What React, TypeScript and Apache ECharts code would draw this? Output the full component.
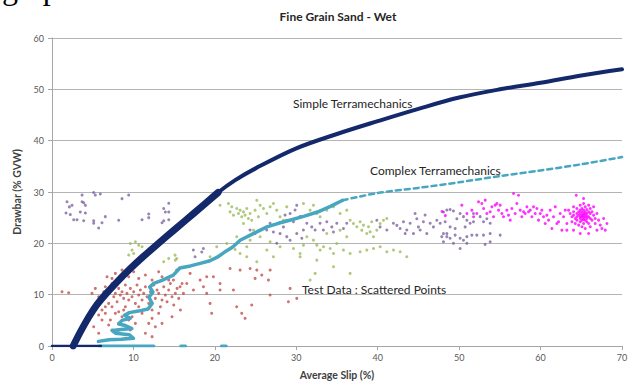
import React, { useEffect, useRef } from "react";
import * as echarts from "echarts";

const titleText = "Fine Grain Sand - Wet";
const xAxisName = "Average Slip (%)";
const yAxisName = "Drawbar (% GVW)";
const simpleLabel = "Simple Terramechanics";
const complexLabel = "Complex Terramechanics";
const testLabel = "Test Data : Scattered Points";

// Simple Terramechanics curve [slip, drawbar]
const simpleCurve: number[][] = [
  [2.6, 0], [3.5, 2.8], [4.5, 5.6], [5.5, 8.0], [6.6, 10.1], [8, 12.5], [9.5, 14.9], [11.2, 17.4],
  [13, 19.9], [15, 22.6], [17.5, 25.95], [20.4, 29.9], [22.5, 32.3], [25, 34.6], [30, 38.5],
  [35, 41.3], [40, 43.8], [45, 46.2], [50, 48.4], [55, 50.0], [60, 51.3], [65, 52.7], [70, 53.9],
];
const simpleBase: number[][] = [[0, 0], [6, 0]];

// Complex Terramechanics: measured-like wiggly part, then dashed prediction
const complexSolid: number[][] = [
  [5.7, 0.9], [7.0, 1.2], [8.5, 1.3], [10.0, 1.5], [9.5, 2.2], [7.8, 2.5], [7.4, 3.0], [8.5, 3.2],
  [9.8, 3.4], [9.0, 4.0], [8.2, 4.3], [8.6, 5.0], [9.6, 5.4], [8.9, 6.0], [9.5, 6.5], [10.6, 6.8],
  [11.8, 7.2], [12.3, 8.3], [11.9, 9.5], [12.4, 10.5], [12.0, 11.5], [12.5, 12.2], [13.5, 12.8],
  [14.9, 13.8], [15.7, 15.2], [17.0, 15.6], [18.2, 16.1], [19.4, 16.6], [20.3, 17.3], [21.2, 18.3],
  [22.2, 19.3], [23.1, 20.6], [24.6, 21.8], [26.4, 23.2], [27.8, 23.9], [29.2, 24.5], [31.0, 25.3],
  [32.6, 26.1], [34.2, 27.2], [35.7, 28.4],
];
const complexDashed: number[][] = [
  [35.7, 28.4], [40, 29.8], [45, 30.8], [50, 31.9], [55, 33.1], [60, 34.2], [65, 35.4], [70, 36.8],
];
const complexBase1: number[][] = [[5.8, 0], [12.5, 0]];
const complexBase2: number[][] = [[15.8, 0], [16.4, 0]];
const complexBase3: number[][] = [[20.8, 0], [21.4, 0]];

// Test data clusters
const redPoints: number[][] = [
  [1.23, 10.57], [2.05, 10.38], [4.91, 10.25], [5.32, 11.22], [5.73, 9.6], [6.14, 8.95], [6.35, 10.57],
  [6.55, 11.55], [6.76, 9.92], [6.96, 8.3], [7.17, 10.9], [7.37, 12.19], [7.58, 9.6], [7.78, 10.25],
  [7.99, 8.63], [8.19, 11.22], [8.39, 9.92], [8.6, 10.57], [8.8, 9.28], [9.01, 11.87], [9.01, 7.65],
  [9.21, 10.25], [9.42, 8.95], [9.62, 11.22], [9.83, 9.6], [10.03, 10.57], [10.24, 8.3], [10.44, 11.87],
  [10.65, 9.92], [10.85, 10.9], [11.06, 8.95], [11.26, 10.25], [11.47, 11.55], [11.67, 9.6], [11.88, 8.3],
  [12.08, 10.57], [12.29, 7.01], [12.49, 11.87], [12.69, 9.28], [12.9, 10.9], [13.1, 10.25], [13.31, 7.65],
  [13.51, 8.95], [13.72, 11.55], [13.92, 9.92], [14.13, 8.63], [14.33, 10.9], [14.54, 12.19], [14.74, 9.6],
  [14.95, 7.98], [15.15, 10.25], [15.36, 11.22], [15.56, 9.28], [15.77, 7.01], [15.97, 12.19],
  [7.37, 7.65], [7.78, 6.36], [8.19, 6.68], [8.6, 5.71], [6.55, 6.36], [6.14, 5.06], [6.96, 4.09],
  [7.37, 3.12], [8.19, 4.41], [10.65, 7.65], [11.06, 6.36], [9.83, 5.71], [10.24, 4.41], [11.88, 4.41],
  [12.29, 5.39], [12.69, 3.76], [13.1, 6.36], [8.6, 14.79], [7.78, 14.14], [9.42, 13.49], [11.47, 13.82],
  [12.29, 12.84], [13.51, 13.49], [14.33, 12.84], [7.37, 13.17], [6.76, 13.49], [10.65, 13.17],
  [13.1, 14.46], [10.03, 14.46], [6.14, 7.01], [5.73, 6.03], [8.19, 3.12], [9.62, 3.12], [5.12, 3.76],
  [5.73, 2.47], [6.55, 7.65], [7.17, 5.06], [8.8, 7.01], [9.42, 5.06], [11.47, 2.47], [12.29, 1.82],
  [13.51, 4.41], [14.74, 5.71], [9.01, 1.49],
  [14.91, 12.84], [15.73, 11.54], [16.55, 12.19], [17.37, 10.9], [18.19, 12.84], [18.6, 11.54],
  [19.82, 13.49], [20.64, 12.19], [21.87, 15.11], [23.1, 14.79], [24.33, 15.11], [25.15, 14.79],
  [25.76, 13.81], [26.79, 14.79], [16.96, 14.14], [16.14, 10.25], [19.0, 10.25], [15.32, 14.79],
  [19.0, 13.49], [19.41, 8.3], [22.28, 10.9], [22.68, 7.66], [23.3, 6.36], [23.71, 5.39], [24.53, 7.98],
  [24.94, 13.17], [26.58, 12.84], [26.78, 9.93], [29.24, 11.22], [29.03, 8.63], [30.06, 9.28],
  [19.61, 6.36], [20.64, 10.9],
];

const greenPoints: number[][] = [
  [20.64, 27.43], [21.67, 27.76], [22.08, 27.11], [21.87, 26.13], [22.28, 25.49], [22.69, 26.78],
  [22.9, 25.81], [23.1, 26.46], [23.3, 25.16], [23.51, 26.13], [23.71, 25.49], [23.92, 26.78],
  [24.12, 24.84], [24.33, 25.81], [24.53, 24.51], [24.94, 26.46], [25.35, 25.16], [25.56, 27.43],
  [25.97, 26.78], [26.38, 25.81], [26.79, 27.11], [27.19, 27.76], [27.6, 26.46], [28.01, 25.16],
  [28.42, 24.51], [28.83, 27.11], [25.15, 28.4], [23.51, 23.87], [24.74, 22.57], [25.56, 21.27],
  [26.79, 20.3], [24.33, 20.62], [22.69, 21.27], [21.46, 19.97], [23.1, 18.03], [23.92, 17.38],
  [25.15, 16.41], [26.38, 18.68], [27.19, 17.38], [28.01, 19.33], [29.65, 19.0], [30.47, 18.03],
  [20.23, 19.33], [19.41, 17.38], [15.32, 17.06], [15.11, 17.7], [22.49, 18.81], [23.92, 19.33],
  [9.62, 19.98], [10.24, 20.3], [10.65, 19.65], [9.83, 18.68], [9.42, 17.71], [11.06, 19.33],
  [11.88, 18.35], [12.29, 19.0], [10.03, 18.03], [13.72, 16.41], [14.33, 17.06], [15.15, 16.73],
  [30.88, 27.76], [31.7, 26.46], [32.11, 27.43], [32.52, 25.81], [32.93, 25.16], [33.75, 26.46],
  [34.57, 27.11], [35.38, 25.81], [36.2, 26.46], [36.61, 24.51], [37.02, 23.87], [37.43, 23.22],
  [37.84, 24.19], [38.05, 22.57], [38.25, 23.54], [38.66, 21.92], [38.87, 23.22], [39.07, 22.24],
  [39.27, 24.19], [39.48, 21.27], [39.89, 22.57], [40.3, 23.87], [40.71, 24.51], [41.12, 24.84],
  [31.29, 21.27], [32.11, 20.62], [32.52, 19.65], [32.93, 18.68], [33.34, 19.33], [34.16, 19.0],
  [34.57, 18.03], [34.97, 19.97], [35.79, 18.68], [36.61, 18.03], [37.84, 18.35], [38.66, 18.68],
  [39.48, 19.0], [40.3, 19.33], [41.12, 18.35], [41.94, 18.68], [42.76, 18.35], [43.57, 17.38],
  [32.52, 16.73], [34.57, 15.43], [36.61, 14.14], [31.7, 12.84], [32.31, 14.14], [30.47, 17.38],
  [30.88, 19.65], [35.38, 22.57], [36.2, 21.27], [33.75, 21.92],
];

const purplePoints: number[][] = [
  [1.84, 28.1], [2.46, 27.4], [2.13, 27.1], [3.89, 27.9], [4.1, 27.4], [3.69, 28.1], [1.72, 25.9],
  [2.25, 25.6], [2.66, 24.6], [3.07, 24.6], [3.48, 26.1], [4.1, 25.9], [3.89, 24.4], [5.12, 24.4],
  [5.12, 23.9], [5.73, 23.0], [6.14, 24.0], [6.55, 25.2], [8.19, 24.5], [8.6, 28.7], [9.42, 29.4],
  [5.12, 29.9], [5.32, 29.4], [5.93, 29.6], [3.69, 29.4], [11.06, 24.6], [11.88, 25.7], [11.88, 25.0],
  [13.72, 26.8], [14.34, 27.8], [13.92, 26.1], [14.34, 26.1], [13.72, 24.4], [14.34, 24.6], [13.51, 24.0],
  [30.06, 27.4], [29.85, 26.5], [29.24, 25.8], [28.62, 25.5], [30.47, 25.2], [28.83, 24.5], [29.65, 24.2],
  [28.42, 23.2], [26.78, 23.9], [26.37, 22.6], [27.19, 22.2], [24.32, 22.6], [24.94, 21.9], [28.01, 21.9],
  [28.83, 21.3], [30.06, 21.9], [30.68, 21.0], [30.87, 22.6], [27.6, 20.0], [29.24, 20.6], [17.36, 18.7],
  [18.39, 18.3], [18.59, 19.0], [17.57, 17.4],
  [31.29, 23.9], [31.9, 23.2], [32.31, 22.6], [32.92, 23.9], [33.33, 22.6], [33.75, 24.2], [34.36, 23.2],
  [34.56, 22.2], [34.98, 23.9], [35.79, 22.9], [36.2, 23.9], [39.89, 24.5], [40.29, 23.2], [41.12, 22.6],
  [41.93, 23.9], [42.35, 23.5], [42.75, 22.9], [43.16, 24.2], [43.57, 22.6], [43.98, 23.9], [44.59, 25.8],
  [44.8, 24.8], [45.0, 23.2], [45.21, 22.6], [45.61, 24.2], [45.82, 25.5], [46.03, 21.9], [46.44, 23.9],
  [46.84, 23.2], [47.26, 24.5], [47.67, 23.9], [48.07, 21.9], [48.49, 21.3], [44.39, 21.9], [43.37, 21.9],
  [48.07, 26.1], [48.49, 26.5], [48.89, 26.6], [49.3, 26.3], [48.28, 24.2], [48.89, 23.2], [49.72, 24.8],
  [50.12, 25.8], [50.53, 25.2], [50.95, 24.5], [51.35, 23.9], [51.76, 24.2], [51.76, 25.8], [52.58, 25.2],
  [52.99, 24.2], [53.4, 24.8], [53.81, 23.9], [48.49, 21.9], [48.89, 21.0], [49.51, 21.6], [50.12, 21.0],
  [50.53, 20.6], [50.95, 21.3], [51.56, 21.6], [52.17, 21.6], [52.99, 21.6], [53.81, 21.9], [55.04, 21.6],
  [48.07, 20.3], [49.3, 20.0], [50.12, 19.0], [50.95, 20.0], [47.87, 21.3], [49.51, 22.9], [50.74, 23.2],
  [53.19, 19.8], [53.81, 20.3],
];

const magentaPoints: number[][] = [
  [47.9, 26.2], [48.3, 25.4],
  [50.33, 27.44], [50.95, 25.81], [51.56, 26.46], [51.77, 25.17], [52.17, 25.81], [52.38, 28.08],
  [52.79, 27.76], [53.0, 26.79], [53.2, 28.41], [53.4, 25.81], [53.81, 26.14], [54.02, 27.11],
  [54.22, 25.17], [54.43, 27.44], [54.63, 27.76], [54.84, 26.46], [55.04, 27.44], [55.25, 25.81],
  [55.45, 25.17], [55.86, 26.46], [56.06, 25.49], [56.27, 24.52], [56.47, 26.79], [56.68, 29.71],
  [56.88, 25.81], [57.09, 27.76], [57.29, 29.38], [57.5, 26.46], [57.7, 25.17], [57.91, 26.14],
  [58.11, 25.81], [58.32, 27.11], [58.52, 26.14], [58.73, 26.46], [58.93, 25.17], [59.14, 27.11],
  [59.34, 25.81], [59.55, 26.79], [59.75, 24.52], [59.96, 25.81], [60.16, 26.46], [60.36, 25.17],
  [60.57, 23.87], [60.77, 25.49], [60.98, 24.52], [61.18, 26.46], [61.39, 22.9], [61.59, 25.17],
  [61.8, 27.11], [62.0, 23.87], [62.21, 24.19], [62.41, 25.81], [62.62, 22.57], [62.82, 25.17],
  [63.03, 26.46], [63.23, 23.87],
  [63.44, 26.46], [63.64, 25.81], [63.85, 25.17], [63.85, 24.19], [64.05, 27.11], [64.05, 26.14],
  [64.05, 25.49], [64.26, 24.84], [64.26, 23.87], [64.46, 26.79], [64.46, 25.81], [64.46, 25.17],
  [64.46, 24.52], [64.67, 26.14], [64.67, 25.49], [64.67, 23.55], [64.87, 27.44], [64.87, 26.46],
  [64.87, 25.81], [64.87, 25.17], [64.87, 24.84], [64.87, 24.19], [65.08, 26.79], [65.08, 26.14],
  [65.08, 25.49], [65.08, 25.17], [65.08, 24.52], [65.08, 23.22], [65.28, 27.76], [65.28, 26.46],
  [65.28, 25.81], [65.28, 25.49], [65.28, 25.04], [65.28, 24.65], [65.28, 23.87], [65.49, 27.11],
  [65.49, 26.14], [65.49, 25.69], [65.49, 25.17], [65.49, 24.52], [65.49, 22.9], [65.69, 26.59],
  [65.69, 25.81], [65.69, 25.3], [65.69, 24.84], [65.69, 24.19], [65.9, 27.44], [65.9, 26.14],
  [65.9, 25.17], [65.9, 23.87], [66.1, 26.79], [66.1, 25.81], [66.1, 24.84], [66.1, 23.22],
  [66.31, 26.14], [66.31, 24.52], [66.51, 25.49], [66.51, 27.11], [66.71, 24.84], [66.71, 23.87],
  [66.92, 25.81], [67.12, 24.52], [67.33, 23.55], [67.53, 22.9], [67.74, 24.84], [67.94, 22.57],
  [64.38, 29.38], [65.28, 28.73], [63.23, 22.57], [64.05, 22.57], [64.87, 21.92], [65.9, 21.92],
  [66.92, 22.57], [68.15, 23.87],
];

const NAVY = "#14296b";
const TEAL = "#47a7c1";
const FONT = "Lato, 'Open Sans', sans-serif";

function scatter(name: string, data: number[][], color: string) {
  return {
    name,
    type: "scatter",
    data,
    symbol: "circle",
    symbolSize: 3,
    itemStyle: { color, opacity: 0.8 },
    z: 2,
    silent: true,
  };
}

function line(name: string, data: number[][], color: string, width: number, type: any = "solid", z = 3, smooth: any = false) {
  return {
    name,
    type: "line",
    data,
    showSymbol: false,
    symbol: "none",
    smooth,
    lineStyle: { color, width, type, cap: "round", join: "round" },
    z,
    silent: true,
  };
}

export default function App() {
  const ref = useRef<HTMLDivElement>(null);
  useEffect(() => {
    if (!ref.current) return;
    const chart = echarts.init(ref.current, undefined, { renderer: "svg" });
    chart.setOption({
      animation: false,
      backgroundColor: "#ffffff",
      textStyle: { fontFamily: FONT },
      grid: { left: 52, right: 12, top: 38, bottom: 40 },
      xAxis: {
        type: "value",
        min: 0,
        max: 70,
        interval: 10,
        name: xAxisName,
        nameLocation: "middle",
        nameGap: 23,
        nameTextStyle: { fontFamily: FONT, fontSize: 10.5, fontWeight: "bold", color: "#404040" },
        axisLine: { show: true, lineStyle: { color: "#a6a6a6", width: 1 } },
        axisTick: { show: true, length: 4, lineStyle: { color: "#a6a6a6" } },
        axisLabel: { fontFamily: FONT, fontSize: 9, color: "#595959", margin: 7 },
        splitLine: { show: false },
      },
      yAxis: {
        type: "value",
        min: 0,
        max: 60,
        interval: 10,
        name: yAxisName,
        nameLocation: "middle",
        nameGap: 29,
        nameTextStyle: { fontFamily: FONT, fontSize: 10.5, fontWeight: "bold", color: "#404040" },
        axisLine: { show: true, lineStyle: { color: "#a6a6a6", width: 1 } },
        axisTick: { show: true, length: 4, lineStyle: { color: "#a6a6a6" } },
        axisLabel: { fontFamily: FONT, fontSize: 9, color: "#595959", margin: 8 },
        splitLine: { show: true, lineStyle: { color: "#b4b4b4", width: 1 } },
      },
      series: [
        scatter("Test red", redPoints, "#c0504d"),
        scatter("Test green", greenPoints, "#9bbb59"),
        scatter("Test purple", purplePoints, "#8064a2"),
        scatter("Test magenta", magentaPoints, "#ff00ff"),
        line("Complex base 1", complexBase1, TEAL, 3),
        line("Complex base 2", complexBase2, TEAL, 3),
        line("Complex base 3", complexBase3, TEAL, 3),
        line("Complex Terramechanics", complexSolid, TEAL, 3.5),
        line("Complex dashed", complexDashed, TEAL, 2.5, [5, 4], 3, 0.3),
        line("Simple base", simpleBase, NAVY, 2.5, "solid", 4),
        line("Simple Terramechanics", simpleCurve, NAVY, 4, "solid", 4, 0.35),
        line("Simple lower", simpleCurve.slice(0, 12), NAVY, 7, "solid", 4, 0.35),
      ],
      graphic: [
        {
          type: "text",
          x: 2,
          y: -12,
          style: { text: "graph", fontFamily: "'Liberation Serif', serif", fontSize: 32, fill: "#000", textVerticalAlign: "middle" },
        },
        {
          type: "text",
          x: 338,
          y: 16,
          style: { text: titleText, fontFamily: FONT, fontSize: 12, fontWeight: "bold", fill: "#262626", textAlign: "center", textVerticalAlign: "middle" },
        },
        {
          type: "text",
          x: 293,
          y: 103,
          style: { text: simpleLabel, fontFamily: FONT, fontSize: 12, fill: "#262626", textVerticalAlign: "middle" },
        },
        {
          type: "text",
          x: 370,
          y: 170,
          style: { text: complexLabel, fontFamily: FONT, fontSize: 12, fill: "#262626", textVerticalAlign: "middle" },
        },
        {
          type: "text",
          x: 302,
          y: 289,
          style: { text: testLabel, fontFamily: FONT, fontSize: 12, fill: "#262626", textVerticalAlign: "middle" },
        },
      ],
    });
    return () => chart.dispose();
  }, []);
  return <div ref={ref} style={{ width: 634, height: 386, position: "absolute", left: 0, top: 0 }} />;
}
